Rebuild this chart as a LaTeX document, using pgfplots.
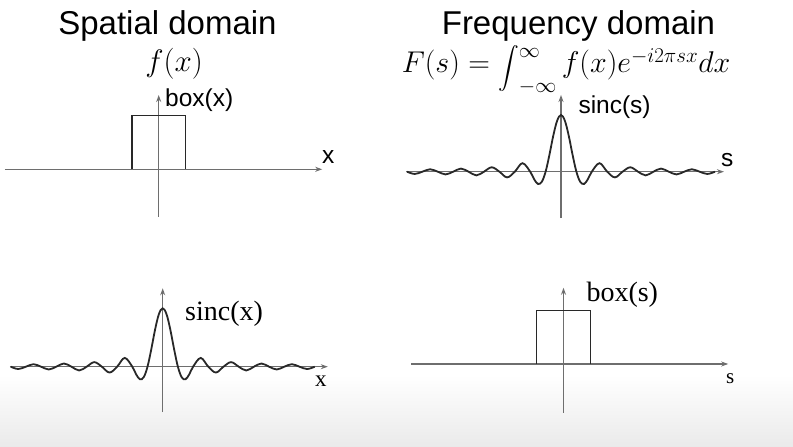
\RequirePackage{fix-cm}
\documentclass[border=0pt]{standalone}
\usepackage{amsmath}
\usepackage{graphicx}
\usepackage[no-math]{fontspec}
\setmainfont{Liberation Serif}
\newfontfamily\arial{Liberation Sans}
\usepackage{pgfplots}
\pgfplotsset{compat=1.18}
\usetikzlibrary{arrows.meta}
\definecolor{axgray}{RGB}{110,110,110}
\definecolor{curve}{RGB}{40,40,40}
\definecolor{bandgray}{RGB}{234,234,234}
\newcommand{\midint}{\mathop{\raisebox{-0.75pt}{\fontsize{21}{25}\selectfont$\displaystyle\int$}}\nolimits}
\pgfplotsset{
  panel/.style={
    anchor=origin, clip=false,
    axis lines=middle,
    xtick=\empty, ytick=\empty,
    axis line style={axgray, line width=1.1pt, -{Stealth[length=7pt,width=5pt]}},
  },
  wave/.style={curve, line width=1.8pt, smooth, tension=0.6, no marks},
  boxline/.style={curve, line width=1.6pt, sharp plot, no marks},
}
\begin{document}
\begin{tikzpicture}
\fill[white] (0,0) rectangle (793pt,447pt);
\shade[top color=white, bottom color=bandgray] (0,0) rectangle (793pt,72pt);

% titles
\node[anchor=base, inner sep=0] at (167.5pt,412pt) {\arial\fontsize{33}{38}\selectfont Spatial domain};
\node[anchor=base, inner sep=0] at (578.5pt,412pt) {\arial\fontsize{33}{38}\selectfont Frequency domain};
\node[anchor=base, inner sep=0] at (174pt,375pt) {\fontsize{31}{36}\selectfont $f(x)$};
\node[anchor=base, inner sep=0] at (566pt,374pt) {\fontsize{30}{36}\selectfont $F(s) = \midint^{\raisebox{-4pt}{$\scriptstyle\infty$}}_{-\infty} f(x) e^{-i2\pi sx} dx$};

% panel 1: box(x)
\begin{axis}[panel, at={(158.7pt,277.7pt)}, x=53.6pt, y=53.6pt,
  xmin=-2.87, xmax=3.05, ymin=-0.884, ymax=1.386]
\addplot[boxline] coordinates {(-0.5,0) (-0.5,1) (0.5,1) (0.5,0)};
\end{axis}
\node[anchor=base west, inner sep=0] at (165pt,340.5pt) {\arial\fontsize{24.5}{29}\selectfont box(x)};
\node[anchor=base west, inner sep=0] at (322pt,283.7pt) {\arial\fontsize{24.5}{29}\selectfont x};

% panel 2: sinc(s)
\begin{axis}[panel, at={(561pt,275.3pt)}, x=15.4pt, y=56.7pt,
  xmin=-10.06, xmax=10.58, ymin=-0.817, ymax=1.353]
\addplot[wave] coordinates {
(-10,0) (-9.5,-0.04) (-9,0) (-8.5,0.043) (-8,0) (-7.5,-0.048) (-7,0) (-6.5,0.055) (-6,0)
(-5.5,-0.065) (-5,0) (-4.5,0.078) (-4,0) (-3.5,-0.10) (-3,0) (-2.5,0.15) (-2,0)
(-1.75,-0.13) (-1.5,-0.215) (-1.25,-0.18) (-1,0) (-0.75,0.30) (-0.5,0.637) (-0.25,0.90)
(0,1) (0.25,0.90) (0.5,0.637) (0.75,0.30) (1,0) (1.25,-0.18) (1.5,-0.215) (1.75,-0.13)
(2,0) (2.5,0.15) (3,0) (3.5,-0.10) (4,0) (4.5,0.078) (5,0) (5.5,-0.065) (6,0)
(6.5,0.055) (7,0) (7.5,-0.048) (8,0) (8.5,0.043) (9,0) (9.5,-0.04) (10,0)
};
\end{axis}
\node[anchor=base west, inner sep=0] at (578.3pt,333pt) {\arial\fontsize{24.5}{29}\selectfont sinc(s)};
\node[anchor=base west, inner sep=0] at (721pt,280.3pt) {\arial\fontsize{24.5}{29}\selectfont s};

% panel 3: sinc(x)
\begin{axis}[panel, at={(162.7pt,80.3pt)}, x=15.2pt, y=58.4pt,
  xmin=-10.05, xmax=10.86, ymin=-0.776, ymax=1.342]
\addplot[wave] coordinates {
(-10,0) (-9.5,-0.04) (-9,0) (-8.5,0.043) (-8,0) (-7.5,-0.048) (-7,0) (-6.5,0.055) (-6,0)
(-5.5,-0.065) (-5,0) (-4.5,0.078) (-4,0) (-3.5,-0.10) (-3,0) (-2.5,0.15) (-2,0)
(-1.75,-0.13) (-1.5,-0.215) (-1.25,-0.18) (-1,0) (-0.75,0.30) (-0.5,0.637) (-0.25,0.90)
(0,1) (0.25,0.90) (0.5,0.637) (0.75,0.30) (1,0) (1.25,-0.18) (1.5,-0.215) (1.75,-0.13)
(2,0) (2.5,0.15) (3,0) (3.5,-0.10) (4,0) (4.5,0.078) (5,0) (5.5,-0.065) (6,0)
(6.5,0.055) (7,0) (7.5,-0.048) (8,0) (8.5,0.043) (9,0) (9.5,-0.04) (10,0)
};
\end{axis}
\node[anchor=base west, inner sep=0] at (185pt,126pt) {\fontsize{28}{33}\selectfont sinc(x)};
\node[anchor=base west, inner sep=0] at (315pt,60pt) {\fontsize{23}{28}\selectfont x};

% panel 4: box(s)
\begin{axis}[panel, at={(563.5pt,83pt)}, x=54pt, y=53.3pt,
  xmin=-2.82, xmax=3.05, ymin=-0.91, ymax=1.43]
\addplot[boxline] coordinates {(-0.5,0) (-0.5,1) (0.5,1) (0.5,0)};
\end{axis}
\node[anchor=base west, inner sep=0] at (586.3pt,145.5pt) {\fontsize{28}{33}\selectfont box(s)};
\node[anchor=base west, inner sep=0] at (726pt,63pt) {\fontsize{21}{26}\selectfont s};
\end{tikzpicture}
\end{document}
